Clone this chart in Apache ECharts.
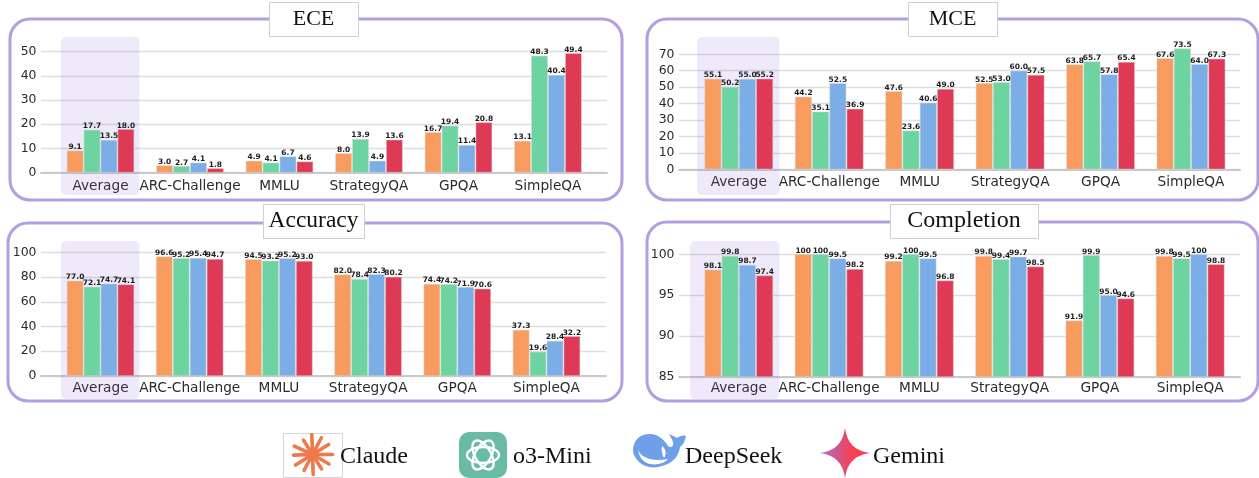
<!DOCTYPE html>
<html><head><meta charset="utf-8">
<style>html,body{margin:0;padding:0;background:#fff}#c{width:1259px;height:478px}</style>
<script src="https://cdn.jsdelivr.net/npm/echarts@6/dist/echarts.min.js"></script>
</head><body><div id="c"></div>
<script>
const categories = ['Average','ARC-Challenge','MMLU','StrategyQA','GPQA','SimpleQA'];
const models = ['Claude','o3-Mini','DeepSeek','Gemini'];
const colors = ['#F79C5E','#6DD3A0','#7BAEE6','#DF3A55'];

const eceClaude = [9.1,3.0,4.9,8.0,16.7,13.1];
const eceO3 = [17.7,2.7,4.1,13.9,19.4,48.3];
const eceDeepSeek = [13.5,4.1,6.7,4.9,11.4,40.4];
const eceGemini = [18.0,1.8,4.6,13.6,20.8,49.4];

const mceClaude = [55.1,44.2,47.6,52.5,63.8,67.6];
const mceO3 = [50.2,35.1,23.6,53.0,65.7,73.5];
const mceDeepSeek = [55.0,52.5,40.6,60.0,57.8,64.0];
const mceGemini = [55.2,36.9,49.0,57.5,65.4,67.3];

const accClaude = [77.0,96.6,94.5,82.0,74.4,37.3];
const accO3 = [72.1,95.2,93.2,78.4,74.2,19.6];
const accDeepSeek = [74.7,95.4,95.2,82.3,71.9,28.4];
const accGemini = [74.1,94.7,93.0,80.2,70.6,32.2];

const compClaude = [98.1,100,99.2,99.8,91.9,99.8];
const compO3 = [99.8,100,100,99.4,99.9,99.5];
const compDeepSeek = [98.7,99.5,99.5,99.7,95.0,100];
const compGemini = [97.4,98.2,96.8,98.5,94.6,98.8];

const panels = [
 {title:'ECE',ts:22,lm:6.5,values:[eceClaude,eceO3,eceDeepSeek,eceGemini],min:0,max:50,interval:10,frontMax:50,
  frame:[10,19,612,181],tbox:[269,2,89,34],hl:[61,37,78.5,158],line:[41,607],yTop:51.7,y0:172.6,c0:100.5,c5:548,bw:16.6},
 {title:'MCE',ts:22,lm:6,values:[mceClaude,mceO3,mceDeepSeek,mceGemini],min:0,max:70,interval:10,frontMax:80,
  frame:[647,19,611,181],tbox:[908,2,89,34],hl:[697,37,82.5,158],line:[679,1240],yTop:54.3,y0:169.4,c0:738.8,c5:1191,bw:16.9},
 {title:'Accuracy',ts:23.5,lm:5,values:[accClaude,accO3,accDeepSeek,accGemini],min:0,max:100,interval:20,frontMax:100,
  frame:[8,223,614,178],tbox:[263,204,101,34],hl:[61,241,78.5,158],line:[41,606],yTop:252.3,y0:376,c0:100.5,c5:546.5,bw:16.6},
 {title:'Completion',ts:24,lm:4.5,values:[compClaude,compO3,compDeepSeek,compGemini],min:85,max:100,interval:5,frontMax:100,
  frame:[647,222,611,179],tbox:[890,204,148,34],hl:[690,241,89.5,158],line:[679,1240],yTop:254.3,y0:376.8,c0:738.8,c5:1190.2,bw:16.9}
];

const W=1259,H=478;
const grid=[],xAxis=[],yAxis=[],series=[],graphic=[];
const fmt=v=>v===100?'100':v.toFixed(1);

echarts.graphic.registerShape('whaleBody',echarts.graphic.extendPath('M633 450 C633 440 641 433 651 434 C660 435 665 441 668 446 C671 448 674 447 673 442 C672 439 670 436 669 434 C672 435 675 437 677 438 C680 436 683 435 686 436 C685 441 683 445 680 447 C679 455 674 462 665 465 C655 469 645 468 639 462 C635 458 633 454 633 450 Z'));
echarts.graphic.registerShape('whaleMark',echarts.graphic.extendPath('M638 450 C642 458 652 462 668 459 C664 464 654 466 647 463 C642 461 639 456 638 450 Z M662 446 C666 449 667 454 664 458 C662 455 661 450 662 446 Z'));
echarts.graphic.registerShape('geminiStar',echarts.graphic.extendPath('M845 428 C847 443 855 451 870 453 C855 455 847 463 845 478 C843 463 835 455 820 453 C835 451 843 443 845 428 Z'));

panels.forEach((p,i)=>{
  graphic.push({type:'rect',z:-5,shape:{x:p.frame[0],y:p.frame[1],width:p.frame[2],height:p.frame[3],r:20},
    style:{fill:'#fff',stroke:'#B39FDF',lineWidth:3}});
  graphic.push({type:'rect',z:1,shape:{x:p.hl[0],y:p.hl[1],width:p.hl[2],height:p.hl[3],r:5},
    style:{fill:'rgba(122,92,214,0.13)'}});
  graphic.push({type:'rect',z:3,shape:{x:p.tbox[0]+.5,y:p.tbox[1]+.5,width:p.tbox[2],height:p.tbox[3]},
    style:{fill:'#fff',stroke:'#CFCFCF',lineWidth:1}});
  graphic.push({type:'text',z:4,x:p.tbox[0]+p.tbox[2]/2,y:p.tbox[1]+p.tbox[3]/2,
    style:{text:p.title,fill:'#111',font:p.ts+'px "Liberation Serif"',align:'center',verticalAlign:'middle'}});

  const b=i*2,f=i*2+1;
  grid.push({left:p.line[0],width:p.line[1]-p.line[0],top:p.yTop,height:p.y0-p.yTop,containLabel:false});
  xAxis.push({gridIndex:b,type:'value',min:0,max:1,show:true,axisTick:{show:false},axisLabel:{show:false},splitLine:{show:false},
    axisLine:{show:true,onZero:false,lineStyle:{color:'#C9C9C9',width:2}}});
  yAxis.push({gridIndex:b,type:'value',min:p.min,max:p.max,interval:p.interval,
    axisLine:{show:false},axisTick:{show:false},
    axisLabel:{color:'#2b2b2b',fontFamily:'DejaVu Sans',fontSize:12.4,margin:4.5},
    splitLine:{show:true,lineStyle:{color:'#DEDEDE',width:1.3}}});

  const band=(p.c5-p.c0)/5, unit=(p.y0-p.yTop)/(p.max-p.min);
  const fTop=p.y0-(p.frontMax-p.min)*unit;
  grid.push({left:p.c0-band/2,width:band*6,top:fTop,height:p.y0-fTop,containLabel:false});
  xAxis.push({gridIndex:f,type:'category',data:categories,axisLine:{show:false},axisTick:{show:false},
    axisLabel:{interval:0,color:'#2b2b2b',fontFamily:'DejaVu Sans',fontSize:13.7,margin:p.lm,hideOverlap:false}});
  yAxis.push({gridIndex:f,type:'value',min:p.min,max:p.frontMax,show:false,splitLine:{show:false}});

  models.forEach((m,k)=>{
    series.push({name:m,type:'bar',xAxisIndex:f,yAxisIndex:f,data:p.values[k],barWidth:p.bw,barGap:'2%',z:3,
      itemStyle:{color:colors[k],borderColor:'rgba(215,215,215,0.8)',borderWidth:0.6},
      label:{show:true,position:'top',distance:-0.5,formatter:o=>fmt(o.value),
        fontFamily:'DejaVu Sans',fontWeight:'bold',fontSize:7.5,color:'#1c1c1c'},
      labelLayout:{hideOverlap:false},animation:false});
  });
});

// legend logos
const cx=312.5,cy=454.5;
graphic.push({type:'rect',shape:{x:283.5,y:433.5,width:59,height:44},style:{fill:'#fff',stroke:'#D6D6D6',lineWidth:1}});
[[0,20],[30,19],[58,17],[88,20],[118,18],[148,20],[178,19],[205,20],[238,17],[268,20],[298,19],[328,19]].forEach(r=>{
  const a=r[0]*Math.PI/180;
  graphic.push({type:'line',shape:{x1:cx,y1:cy,x2:cx+r[1]*Math.cos(a),y2:cy+r[1]*Math.sin(a)},
    style:{stroke:'#EC7A4C',lineWidth:3.6,lineCap:'round'}});
});
graphic.push({type:'rect',shape:{x:459,y:432,width:48,height:46,r:10},style:{fill:'#69BBA3'}});
[0,60,120].forEach(d=>{
  graphic.push({type:'ellipse',x:483,y:455,rotation:d*Math.PI/180,shape:{cx:0,cy:0,rx:16,ry:8},
    style:{fill:'none',stroke:'#fff',lineWidth:2.4}});
});
graphic.push({type:'whaleBody',shape:{},style:{fill:'#6F9FE8'}});
graphic.push({type:'whaleMark',shape:{},style:{fill:'#fff'}});
graphic.push({type:'geminiStar',shape:{},
  style:{fill:{type:'linear',x:0,y:0,x2:1,y2:0,colorStops:[{offset:0,color:'#A77BD0'},{offset:.35,color:'#D2548E'},{offset:.65,color:'#F8404F'},{offset:1,color:'#F8404F'}]}}});

const legendPos=[330,503,675,863];
const legend=models.map((m,k)=>({data:[{name:m,icon:'none'}],left:legendPos[k],top:440,itemWidth:0,itemHeight:10,selectedMode:false,
  textStyle:{fontFamily:'Liberation Serif',fontSize:24,color:'#111'}}));

const chart=echarts.init(document.getElementById('c'),null,{renderer:'canvas',width:W,height:H});
chart.setOption({animation:false,backgroundColor:'#fff',grid,xAxis,yAxis,series,legend,tooltip:{show:false},graphic:{elements:graphic}});
</script></body></html>
